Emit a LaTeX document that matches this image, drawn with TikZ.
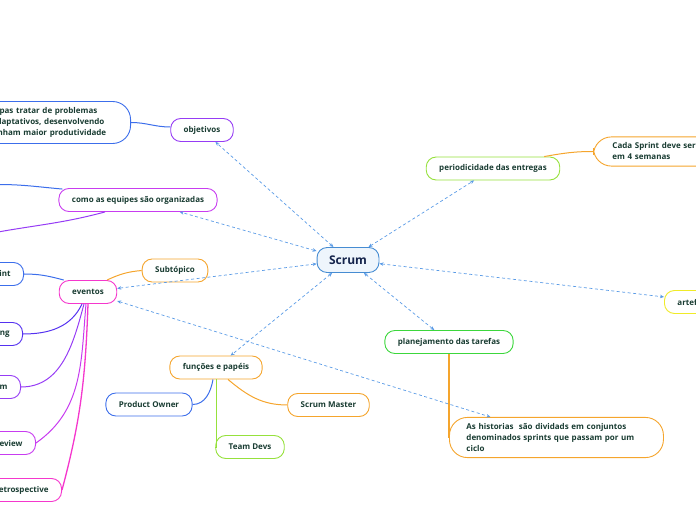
\documentclass[tikz,border=0pt]{standalone}
\usepackage{fontspec}
\setmainfont{Open Sans}
\definecolor{scrumblue}{RGB}{70,140,210}
\definecolor{scrumfill}{RGB}{238,245,252}
\definecolor{textdark}{RGB}{25,60,50}
\definecolor{navy}{RGB}{20,35,75}
\definecolor{linkblue}{RGB}{90,155,230}
\definecolor{nodeblue}{RGB}{60,110,235}
\definecolor{nodeindigo}{RGB}{85,50,240}
\definecolor{nodepurple}{RGB}{150,60,245}
\definecolor{nodeviolet}{RGB}{200,60,240}
\definecolor{nodepink}{RGB}{245,55,205}
\definecolor{nodeorange}{RGB}{245,165,45}
\definecolor{nodelime}{RGB}{150,225,60}
\definecolor{nodegreen}{RGB}{60,215,60}
\definecolor{nodeyellow}{RGB}{240,235,40}
\usetikzlibrary{arrows.meta,positioning,calc}

\begin{document}
\begin{tikzpicture}[x=1pt,y=1pt,
      topic/.style={draw=#1,fill=white,rounded corners=10pt,line width=0.9pt,
                    minimum height=23pt,inner xsep=13pt,
                    font=\fontsize{8}{11}\selectfont\bfseries,text=textdark},
      topic/.default=nodeblue,
      cutleft/.style={topic=#1,anchor=east,text width=60pt,align=right},
      cutright/.style={topic=#1,anchor=west,text width=60pt,align=left},
      note/.style={topic=#1,rounded corners=18pt,inner xsep=19pt,inner ysep=6pt,align=left},
      link/.style={draw=linkblue,line width=0.7pt,dash pattern=on 3pt off 2.5pt,
                   {Stealth[length=4pt,width=3.5pt]}-{Stealth[length=4pt,width=3.5pt]}},
      branch/.style={draw=#1,line width=1pt}]
      \useasboundingbox (0,0) rectangle (696,520);
      \clip (0,0) rectangle (696,520);

      \node[topic=scrumblue,fill=scrumfill,minimum height=25pt,inner xsep=12pt,
            font=\fontsize{12}{14}\selectfont\bfseries,text=navy] (scrum) at (348,260) {Scrum};

      \node[topic=nodepurple] (obj) at (202,390) {objetivos};
      \node[note=nodeblue,anchor=east,text width=111pt,inner xsep=20pt] (goal) at (131,397.5)
        {pas tratar de problemas\\\hspace*{-3pt}daptativos, desenvolvendo\\\hspace*{-2pt}nham maior produtividade};
      \node[topic=nodeviolet] (org) at (138,320) {como as equipes são organizadas};
      \node[topic=nodepink] (ev) at (88,228) {eventos};
      \node[topic=nodeorange] (sub) at (175,249.5) {Subtópico};
      \node[cutleft=nodeblue] (sprint) at (24,246) {int};
      \node[cutleft=nodeindigo] (plan) at (23,186) {ng};
      \node[cutleft=nodepurple] (daily) at (21,133) {m};
      \node[cutleft=nodeviolet] (review) at (36,77) {eview};
      \node[cutleft=nodepink] (retro) at (62,30) {etrospective};
      \node[topic=nodelime] (per) at (493,351.5) {periodicidade das entregas};
      \node[note=nodeorange,anchor=west,text width=120pt] (cycle) at (593,368.5)
        {Cada Sprint deve ser c\\em 4 semanas};
      \node[cutright=nodeyellow] (art) at (664,218) {artef};
      \node[topic=nodegreen] (tasks) at (449,178) {planejamento das tarefas};
      \node[note=nodeorange,anchor=west,text width=180pt,inner xsep=17pt] (hist) at (449,82.5)
        {As historias\ \ são dividads em conjuntos\\denominados sprints que passam por um\\ciclo};
      \node[topic=nodeorange] (roles) at (216,152.5) {funções e papéis};
      \node[topic=nodeblue] (po) at (149,115.5) {Product Owner};
      \node[topic=nodeorange] (sm) at (328.5,115) {Scrum Master};
      \node[topic=nodelime] (devs) at (250,73) {Team Devs};

      \coordinate (orgup) at (-2,335.5);
      \coordinate (orgdown) at (-2,288);

      \draw[branch=nodeblue] ($(obj.west)+(0,3)$) to[out=180,in=0] (goal.east);
      \draw[branch=nodeblue] ($(org.north west)+(4,-1)$) to[out=175,in=0] (orgup);
      \draw[branch=nodepurple] ($(org.south)+(-33,0)$) to[out=195,in=10] (orgdown);
      \draw[branch=nodeblue] ($(ev.north west)+(5,0)$) to[out=165,in=0] (sprint.east);
      \draw[branch=nodeorange] ($(ev.north)+(19,0)$) to[out=25,in=185] (sub.west);
      \draw[branch=nodeindigo] ($(ev.south)+(-6,0)$) to[out=-115,in=0] (plan.east);
      \draw[branch=nodepurple] ($(ev.south)+(-4,0)$) to[out=-105,in=0] (daily.east);
      \draw[branch=nodeviolet] ($(ev.south)+(-2,0)$) to[out=-95,in=35] (review.east);
      \draw[branch=nodepink,line width=1.3pt] (ev.south) to[out=-92,in=75] (retro.east);
      \draw[branch=nodeblue] ($(roles.south)+(-3,0)$) to[out=-100,in=0] (po.east);
      \draw[branch=nodelime] (roles.south) |- (devs.west);
      \draw[branch=nodeorange] ($(roles.south)+(12,0)$) to[out=-40,in=180] (sm.west);
      \draw[branch=nodeorange] ($(per.north east)+(-16,0)$) to[out=10,in=180] (cycle.west);
      \draw[branch=nodeorange,line width=2pt] (tasks.south) |- (hist.west);

      \foreach \n in {obj,org,ev,roles,per,art,tasks}
        \draw[link] (scrum) -- (\n);
      \draw[link] (ev) -- (hist);
    \end{tikzpicture}
\end{document}
